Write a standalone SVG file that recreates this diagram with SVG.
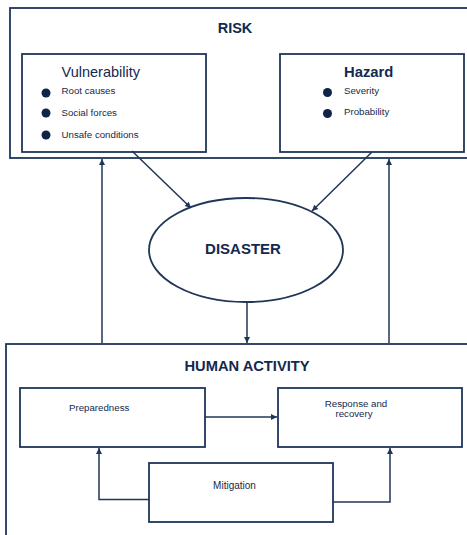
<svg xmlns="http://www.w3.org/2000/svg" width="467" height="535" viewBox="0 0 467 535">
<style>
.box{fill:#fff;stroke:#1f3659;stroke-width:1.8}
.ln{fill:none;stroke:#1f3659;stroke-width:1.5}
text{font-family:"Liberation Sans",Arial,sans-serif;fill:#13294d}
.t{font-weight:bold}
.s{font-size:9.7px}
.dot{fill:#0f2447}
</style>
<defs>
<marker id="ah" viewBox="0 0 10 10" refX="10" refY="5" markerWidth="7" markerHeight="6" markerUnits="userSpaceOnUse" orient="auto">
<path d="M0,0 L10,5 L0,10 Z" fill="#1f3659"/>
</marker>
</defs>
<rect width="467" height="535" fill="#fff"/>
<g id="risk">
<rect class="box" x="10" y="8" width="470" height="150"/>
<text class="t" x="235" y="33" font-size="14.5" text-anchor="middle">RISK</text>
</g>
<g id="vulnerability">
<rect class="box" x="22" y="54" width="184" height="98"/>
<text x="61.5" y="77" font-size="14.5">Vulnerability</text>
<circle class="dot" cx="46" cy="93" r="4.5"/>
<circle class="dot" cx="46" cy="113" r="4.5"/>
<circle class="dot" cx="46" cy="135" r="4.5"/>
<text class="s" x="61.5" y="94">Root causes</text>
<text class="s" x="61.5" y="115.5">Social forces</text>
<text class="s" x="61.5" y="138">Unsafe conditions</text>
</g>
<g id="hazard">
<rect class="box" x="280" y="54" width="184" height="98"/>
<text class="t" x="344" y="77" font-size="14.8">Hazard</text>
<circle class="dot" cx="327.5" cy="92.5" r="4.5"/>
<circle class="dot" cx="327.5" cy="113.5" r="4.5"/>
<text class="s" x="344" y="94">Severity</text>
<text class="s" x="344" y="115">Probability</text>
</g>
<g id="disaster">
<ellipse class="box" cx="246" cy="250" rx="97" ry="52"/>
<text class="t" x="243" y="253.5" font-size="15" text-anchor="middle">DISASTER</text>
</g>
<g id="human-activity">
<rect class="box" x="6" y="344" width="475" height="200"/>
<text class="t" x="247" y="371" font-size="14.7" text-anchor="middle">HUMAN ACTIVITY</text>
</g>
<g id="preparedness">
<rect class="box" x="20" y="388" width="185" height="59"/>
<text class="s" x="69" y="411">Preparedness</text>
</g>
<g id="response">
<rect class="box" x="278" y="388" width="184" height="59"/>
<text class="s" x="356" y="407" text-anchor="middle">Response and</text>
<text class="s" x="354" y="417" text-anchor="middle">recovery</text>
</g>
<g id="mitigation">
<rect class="box" x="149" y="463" width="184" height="59"/>
<text x="234.5" y="488.5" font-size="10" text-anchor="middle">Mitigation</text>
</g>
<g id="connectors">
<line class="ln" x1="132" y1="151" x2="191" y2="208" marker-end="url(#ah)"/>
<line class="ln" x1="372" y1="152" x2="312" y2="211" marker-end="url(#ah)"/>
<line class="ln" x1="102" y1="343" x2="102" y2="159" marker-end="url(#ah)"/>
<line class="ln" x1="389" y1="343" x2="389" y2="159" marker-end="url(#ah)"/>
<line class="ln" x1="247" y1="302" x2="247" y2="343" marker-end="url(#ah)"/>
<line class="ln" x1="205" y1="417" x2="277" y2="417" marker-end="url(#ah)"/>
<polyline class="ln" points="149,499.5 99,499.5 99,448" marker-end="url(#ah)"/>
<polyline class="ln" points="333,502 390,502 390,448" marker-end="url(#ah)"/>
</g>
</svg>
